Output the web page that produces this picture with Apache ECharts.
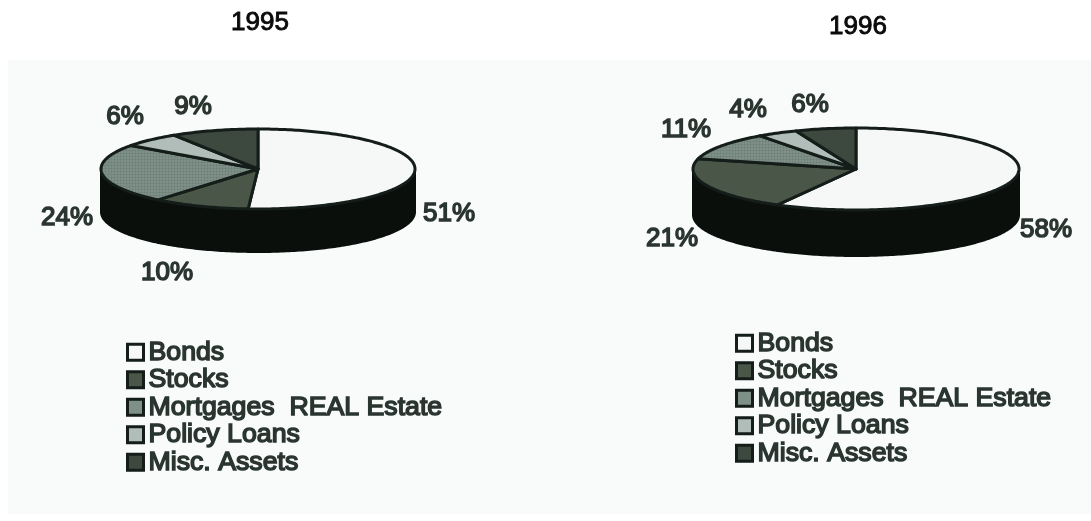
<!DOCTYPE html>
<html>
<head>
<meta charset="utf-8">
<style>html,body{margin:0;padding:0;background:#fff}#chart{width:1091px;height:521px}</style>
<script src="https://cdn.jsdelivr.net/npm/echarts@6/dist/echarts.min.js"></script>
</head>
<body>
<div id="chart"></div>
<script>
// Asset allocation, share of portfolio in percent
const years = ['1995', '1996'];
const categories = ['Bonds', 'Stocks', 'Mortgages  REAL Estate', 'Policy Loans', 'Misc. Assets'];
const values1995 = [51, 10, 24, 6, 9];
const values1996 = [58, 21, 11, 4, 6];
const sliceColors = ['#f6f8f8', '#4a5647', '#7f9088', '#b0bdb8', '#3d493f'];

// Geometry of each tilted disc
const discs = [
  { cx: 258, cy: 169, rx: 157, ry: 40, depth: 43 },
  { cx: 856, cy: 169, rx: 163, ry: 41, depth: 46 }
];
// Percent label centres, relative to the disc centre
const labelOffsets = [
  [[191, 45], [-91, 104], [-191, 49], [-133, -52], [-65, -62]],
  [[190, 61], [-184, 70], [-170, -39], [-108, -59], [-46, -64]]
];

const INK = '#141d19';
const LABEL_INK = '#2a3530';
const FONT = '"Liberation Sans", Arial, sans-serif';
const allValues = [values1995, values1996];

// Fine printed screen used on the mortgages wedge
function screenTile(base) {
  const c = document.createElement('canvas');
  c.width = 3; c.height = 3;
  const g = c.getContext('2d');
  g.fillStyle = base;
  g.fillRect(0, 0, 3, 3);
  g.fillStyle = 'rgba(60,80,70,0.13)';
  g.fillRect(0, 0, 1, 3);
  g.fillRect(0, 0, 3, 1);
  return { image: c, repeat: 'repeat' };
}

function ellipsePoint(d, deg, dy) {
  const a = deg * Math.PI / 180;
  return [d.cx + d.rx * Math.sin(a), d.cy - d.ry * Math.cos(a) + (dy || 0)];
}

function arcPoints(d, from, to, dy) {
  const pts = [];
  const steps = Math.max(2, Math.ceil(Math.abs(to - from)));
  for (let k = 0; k <= steps; k++) pts.push(ellipsePoint(d, from + (to - from) * k / steps, dy));
  return pts;
}

function renderSlice(catIndex) {
  const fill = catIndex === 2 ? screenTile(sliceColors[2]) : sliceColors[catIndex];
  return function (params, api) {
    const pie = api.value(0);
    const d = discs[pie];
    const list = allValues[pie];
    const total = list.reduce((s, v) => s + v, 0);
    const before = list.slice(0, catIndex).reduce((s, v) => s + v, 0);
    const start = before / total * 360;
    const end = start + api.value(1) / total * 360;
    const children = [];

    // Outer wall: only the part of the wedge facing the viewer (90 to 270 degrees)
    const wallFrom = Math.max(start, 90);
    const wallTo = Math.min(end, 270);
    if (wallTo > wallFrom) {
      const wall = arcPoints(d, wallFrom, wallTo, 0)
        .concat(arcPoints(d, wallTo, wallFrom, d.depth));
      children.push({
        type: 'polygon', shape: { points: wall },
        style: { fill: '#0a0f0c', stroke: '#0a0f0c', lineWidth: 2 }
      });
    }
    // Top face
    const top = [[d.cx, d.cy]].concat(arcPoints(d, start, end, 0));
    children.push({
      type: 'polygon', z2: 5, shape: { points: top },
      style: { fill: fill, stroke: INK, lineWidth: 3, lineJoin: 'round' }
    });
    // Percent label
    const off = labelOffsets[pie][catIndex];
    children.push({
      type: 'text', z2: 10,
      style: {
        x: d.cx + off[0], y: d.cy + off[1],
        text: api.value(1) + '%',
        align: 'center', verticalAlign: 'middle',
        font: '26px ' + FONT, fill: LABEL_INK,
        stroke: LABEL_INK, lineWidth: 1.5
      }
    });
    return { type: 'group', children: children };
  };
}

const series = categories.map((name, i) => ({
  type: 'custom',
  name: name,
  coordinateSystem: 'none',
  silent: true,
  renderItem: renderSlice(i),
  itemStyle: { color: sliceColors[i] },
  data: [[0, values1995[i]], [1, values1996[i]]]
}));

function legendAt(left, top) {
  return {
    show: true, orient: 'vertical', left: left, top: top,
    data: categories, icon: 'rect',
    itemWidth: 16, itemHeight: 16, itemGap: -1, padding: 0,
    selectedMode: false,
    itemStyle: { borderColor: INK, borderWidth: 3 },
    textStyle: {
      fontFamily: FONT, fontSize: 26.7, color: LABEL_INK, padding: 0,
      textBorderColor: LABEL_INK, textBorderWidth: 1.5
    }
  };
}

const titleStyle = {
  fontFamily: FONT, fontSize: 26, fontWeight: 'normal', color: '#0a0a0a',
  textBorderColor: '#0a0a0a', textBorderWidth: 0.9
};

const chart = echarts.init(document.getElementById('chart'), null, { renderer: 'canvas' });
chart.setOption({
  animation: false,
  backgroundColor: '#ffffff',
  title: [
    { text: years[0], left: 260, top: 10, textAlign: 'center', padding: 0, textStyle: titleStyle },
    { text: years[1], left: 858, top: 14, textAlign: 'center', padding: 0, textStyle: titleStyle }
  ],
  legend: [legendAt(126, 338), legendAt(735, 329)],
  graphic: [{
    type: 'rect', z: -10, silent: true,
    shape: { x: 8, y: 60, width: 1083, height: 454 },
    style: { fill: '#f8fbfa' }
  }],
  series: series
});
</script>
</body>
</html>
